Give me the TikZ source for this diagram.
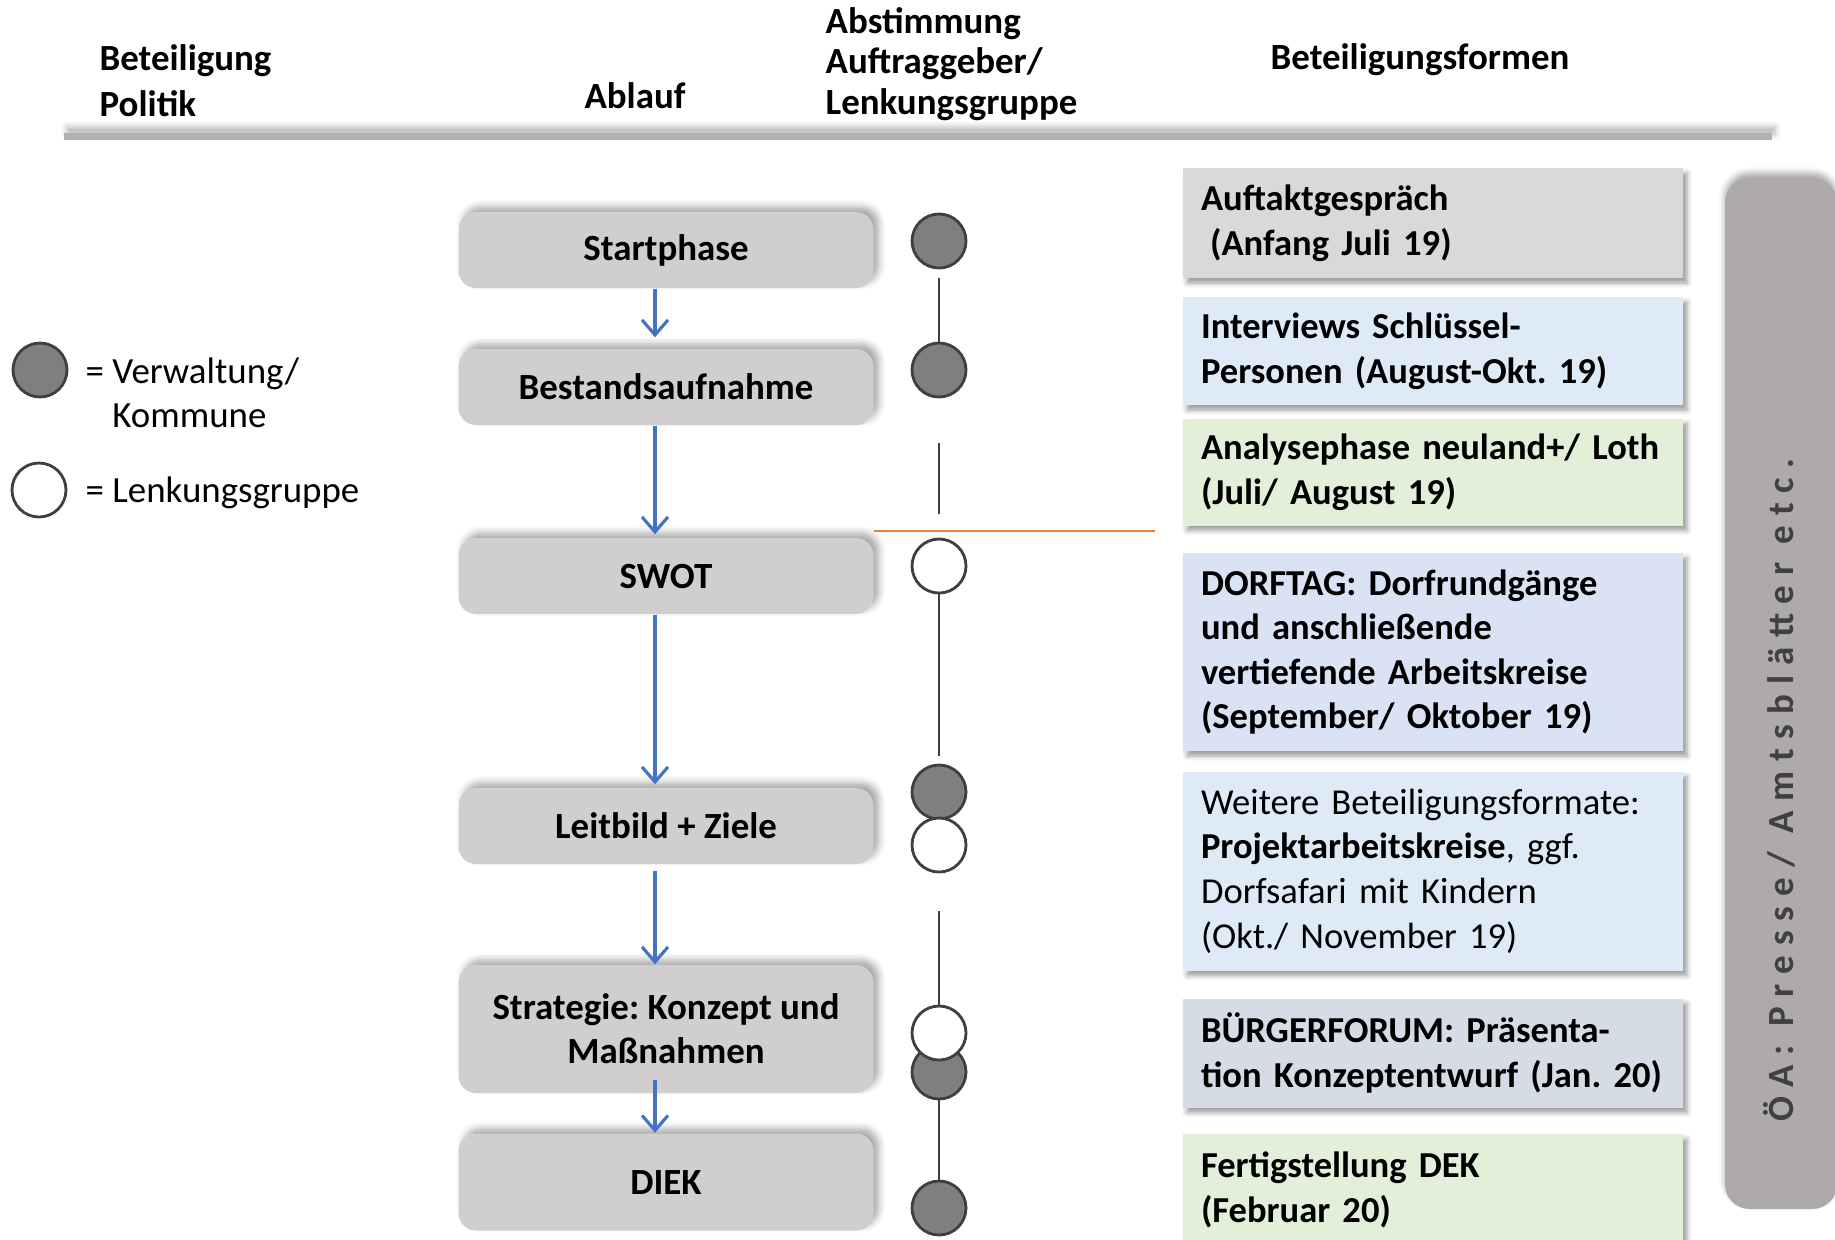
\documentclass[tikz,border=0pt]{standalone}
\usepackage{fontspec}
\setmainfont{Carlito}
\usetikzlibrary{positioning, arrows.meta, shadows.blur}

\definecolor{phasefill}{HTML}{D0CECE}
\definecolor{dotfill}{HTML}{7F7F7F}
\definecolor{dotline}{HTML}{3F3F3F}
\definecolor{arrblue}{HTML}{4472C4}
\definecolor{cutorange}{HTML}{ED7D31}
\definecolor{formgray}{HTML}{D9D9D9}
\definecolor{formblue}{HTML}{DEEBF7}
\definecolor{formgreen}{HTML}{E2F0D9}
\definecolor{formlila}{HTML}{DAE3F3}
\definecolor{formslate}{HTML}{D6DCE5}
\definecolor{oefill}{HTML}{AEAAAA}
\definecolor{oetext}{HTML}{404040}

\newcommand{\txt}{\fontsize{10.4}{12.7}\selectfont}
\frenchspacing

\begin{document}
\begin{tikzpicture}[
    x=0.1mm, y=-0.1mm,
    head/.style={inner sep=0pt, align=left, font=\fontsize{10.5}{13}\selectfont\bfseries},
    phase/.style={
      rectangle, fill=phasefill, rounded corners=5pt,
      minimum width=41.5mm, minimum height=7.6mm,
      align=center, font=\fontsize{10.5}{12.5}\selectfont\bfseries,
      blur shadow={shadow xshift=0.5mm, shadow yshift=0.5mm,
        shadow blur radius=0.7mm, shadow opacity=35}
    },
    form/.style={
      rectangle, minimum width=50mm, text width=46.4mm, inner xsep=1.8mm,
      align=left, font=\txt\bfseries,
      blur shadow={shadow xshift=0.4mm, shadow yshift=-0.5mm,
        shadow blur radius=0.5mm, shadow opacity=40}
    },
    verw/.style={circle, draw=dotline, fill=dotfill, line width=0.8pt,
      minimum size=5.4mm, inner sep=0pt},
    lenk/.style={verw, fill=white},
    stem/.style={draw=dotline, line width=0.45pt},
    arr/.style={-{Straight Barb[length=1.5mm, width=2.6mm]}, draw=arrblue, line width=0.9pt}
  ]
  \useasboundingbox (0,0) rectangle (1835,1239);

  % header
  \node[head, anchor=west] (hpolitik) at (99,81) {Beteiligung\\Politik};
  \node[head] (hablauf) at (635,96) {Ablauf};
  \node[head, anchor=west, font=\fontsize{10.5}{11.6}\selectfont\bfseries] (habst) at (825,64)
    {Abstimmung\\Auftraggeber/\\Lenkungsgruppe};
  \node[head, anchor=west] (hformen) at (1270,60) {Beteiligungsformen};
  \fill[gray!60, blur shadow={shadow xshift=0.3mm, shadow yshift=0.6mm,
      shadow blur radius=0.6mm, shadow opacity=30}] (64,133) rectangle (1772,140);

  % legend
  \node[verw] (legv) at (40,370) {};
  \node[lenk] (legl) at (39,490) {};
  \node[anchor=west, inner sep=0pt, align=left, font=\fontsize{10.5}{12.5}\selectfont] (legvt) at (85,393)
    {= Verwaltung/\\\phantom{=\ }Kommune};
  \node[anchor=west, inner sep=0pt, font=\fontsize{10.5}{12.5}\selectfont] (leglt) at (85,493) {= Lenkungsgruppe};

  % Ablauf
  \node[phase] (start) at (666,250) {Startphase};
  \node[phase] (bestand) at (666,387) {Bestandsaufnahme};
  \node[phase] (swot) at (666,576) {SWOT};
  \node[phase] (leitbild) at (666,826) {Leitbild + Ziele};
  \node[phase, minimum height=12.8mm] (strategie) at (666,1029) {Strategie: Konzept und\\Maßnahmen};
  \node[phase, minimum height=9.7mm] (diek) at (666,1182) {DIEK};

  \draw[arr, shorten >=1.1mm] ([xshift=-1.1mm]start.south) -- ([xshift=-1.1mm]bestand.north);
  \draw[arr, shorten >=0.3mm] ([xshift=-1.1mm]bestand.south) -- ([xshift=-1.1mm]swot.north);
  \draw[arr, shorten >=0.3mm] ([xshift=-1.1mm]swot.south) -- ([xshift=-1.1mm]leitbild.north);
  \draw[arr, shorten <=0.6mm] ([xshift=-1.1mm]leitbild.south) -- ([xshift=-1.1mm]strategie.north);
  \draw[arr, shorten <=-1.4mm] ([xshift=-1.1mm]strategie.south) -- ([xshift=-1.1mm]diek.north);

  % Abstimmung
  \node[verw] (v1) at (939,241) {};
  \node[verw] (v2) at (939,370) {};
  \node[lenk] (l1) at (939,566) {};
  \node[verw] (v3) at (939,792) {};
  \node[lenk] (l2) at (939,845) {};
  \node[verw] (v4) at (939,1072) {};
  \node[lenk] (l3) at (939,1033) {};
  \node[verw] (v5) at (939,1208) {};

  \draw[stem, shorten <=0.9mm] (v1) -- (v2);
  \draw[stem, shorten <=4.5mm, shorten >=2.4mm] (v2) -- (l1);
  \draw[stem, shorten >=0.8mm] (l1) -- (v3);
  \draw[stem, shorten <=3.8mm] (l2) -- (l3);
  \draw[stem] (v4) -- (v5);

  \coordinate (cutend) at (1155,531);
  \draw[cutorange, line width=0.8pt] (cutend -| swot.east) -- (cutend);

  % Beteiligungsformen
  \node[form, fill=formgray, minimum height=11mm] (auftakt) at (1433,223)
    {Auftaktgespräch\\\hspace*{0.25em}(Anfang Juli 19)};
  \node[form, fill=formblue, minimum height=10.8mm] (interviews) at (1433,351)
    {Interviews Schlüssel-\\Personen (August-Okt. 19)};
  \node[form, fill=formgreen, minimum height=10.7mm] (analyse) at (1433,472)
    {Analysephase neuland+/ Loth\\(Juli/ August 19)};
  \node[form, fill=formlila, minimum height=19.8mm] (dorftag) at (1433,652)
    {DORFTAG: Dorfrundgänge\\und anschließende\\vertiefende Arbeitskreise\\(September/ Oktober 19)};
  \node[form, fill=formblue, minimum height=19.9mm, font=\txt] (weitere) at (1433,871)
    {Weitere Beteiligungsformate:\\\textbf{Projektarbeitskreise}, ggf.\\Dorfsafari mit Kindern\\(Okt./ November 19)};
  \node[form, fill=formslate, minimum height=10.9mm] (forum) at (1433,1053)
    {BÜRGERFORUM: Präsenta-\\tion Konzeptentwurf (Jan. 20)};
  \node[form, fill=formgreen, minimum height=11.2mm] (fertig) at (1433,1190)
    {Fertigstellung DEK\\(Februar 20)};

  % Oeffentlichkeitsarbeit
  \node[rectangle, fill=oefill, rounded corners=7pt, minimum width=11.2mm, minimum height=103.1mm,
    blur shadow={shadow xshift=0mm, shadow yshift=0.5mm, shadow blur radius=0.6mm, shadow opacity=35}]
    (oe) at (1781,693.5) {};
  \node[rotate=90, text=oetext, font=\fontsize{10.5}{12}\selectfont\bfseries\addfontfeature{LetterSpace=27}]
    (oetxt) at (1779,790) {ÖA: Presse/ Amtsblätter etc.};
\end{tikzpicture}
\end{document}
